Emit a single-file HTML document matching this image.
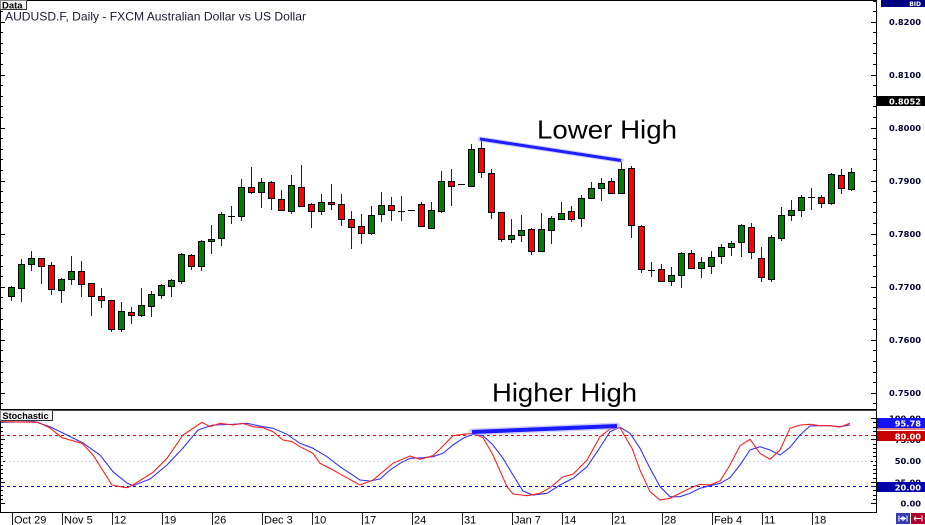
<!DOCTYPE html>
<html><head><meta charset="utf-8"><style>
html,body{margin:0;padding:0;background:#fff;}
svg{display:block;}
.ax{font-family:"DejaVu Sans","Liberation Sans",sans-serif;font-weight:bold;font-size:8.3px;fill:#000033;}
.bx{font-family:"DejaVu Sans","Liberation Sans",sans-serif;font-weight:bold;font-size:8.3px;fill:#fff;}
.dt{font-family:"Liberation Sans",sans-serif;font-size:11px;fill:#000;}
.big{font-family:"Liberation Sans",sans-serif;font-size:26px;fill:#000;}
</style></head><body>
<svg width="925" height="525" viewBox="0 0 925 525" xmlns="http://www.w3.org/2000/svg">
<rect width="925" height="525" fill="#fff"/>

<!-- frames -->
<path d="M0 0.5H877 M876.5 0V513 M0 409.5H877 M0 512.5H877 M0.5 0V513" stroke="#000" stroke-width="1" fill="none"/>
<path d="M0 410.5H877" stroke="#444" stroke-width="1"/>

<!-- price ticks right -->
<path stroke="#000" stroke-width="1" fill="none" d="
M873 1.5h3 M873 11.5h3 M871 22.5h5 M873 32.5h3 M873 43.5h3 M873 53.5h3 M873 64.5h3 M871 75.5h5 M873 85.5h3 M873 96.5h3 M873 106.5h3 M873 117.5h3 M871 128.5h5 M873 138.5h3 M873 149.5h3 M873 159.5h3 M873 170.5h3 M871 181.5h5 M873 191.5h3 M873 202.5h3 M873 212.5h3 M873 223.5h3 M871 234.5h5 M873 244.5h3 M873 255.5h3 M873 266.5h3 M873 276.5h3 M871 287.5h5 M873 297.5h3 M873 308.5h3 M873 319.5h3 M873 329.5h3 M871 340.5h5 M873 350.5h3 M873 361.5h3 M873 372.5h3 M873 382.5h3 M871 393.5h5 M873 403.5h3
M1 1.5h2 M1 11.5h2 M1 22.5h4 M1 32.5h2 M1 43.5h2 M1 53.5h2 M1 64.5h2 M1 75.5h4 M1 85.5h2 M1 96.5h2 M1 106.5h2 M1 117.5h2 M1 128.5h4 M1 138.5h2 M1 149.5h2 M1 159.5h2 M1 170.5h2 M1 181.5h4 M1 191.5h2 M1 202.5h2 M1 212.5h2 M1 223.5h2 M1 234.5h4 M1 244.5h2 M1 255.5h2 M1 266.5h2 M1 276.5h2 M1 287.5h4 M1 297.5h2 M1 308.5h2 M1 319.5h2 M1 329.5h2 M1 340.5h4 M1 350.5h2 M1 361.5h2 M1 372.5h2 M1 382.5h2 M1 393.5h4 M1 403.5h2
"/>
<!-- stoch ticks -->
<path stroke="#000" stroke-width="1" fill="none" d="
M871 503.5h5 M873 499.5h3 M873 495.5h3 M873 490.5h3 M873 486.5h3 M871 482.5h5 M873 478.5h3 M873 473.5h3 M873 469.5h3 M873 465.5h3 M871 461.5h5 M873 456.5h3 M873 452.5h3 M873 448.5h3 M873 444.5h3 M871 439.5h5 M873 435.5h3 M873 431.5h3 M873 427.5h3 M873 422.5h3 M871 418.5h5
M1 503.5h4 M1 499.5h2 M1 495.5h2 M1 490.5h2 M1 486.5h2 M1 482.5h4 M1 478.5h2 M1 473.5h2 M1 469.5h2 M1 465.5h2 M1 461.5h4 M1 456.5h2 M1 452.5h2 M1 448.5h2 M1 444.5h2 M1 439.5h4 M1 435.5h2 M1 431.5h2 M1 427.5h2 M1 422.5h2 M1 418.5h4
"/>

<!-- price labels -->
<g class="ax" text-anchor="end">
<text x="921" y="25">0.8200</text>
<text x="921" y="78">0.8100</text>
<text x="921" y="131">0.8000</text>
<text x="921" y="184">0.7900</text>
<text x="921" y="237">0.7800</text>
<text x="921" y="290">0.7700</text>
<text x="921" y="343">0.7600</text>
<text x="921" y="396">0.7500</text>
<text x="921" y="421.5">100.00</text>
<text x="921" y="443">75.00</text>
<text x="921" y="464">50.00</text>
<text x="921" y="485.5">25.00</text>
<text x="921" y="506.5">0.00</text>
</g>

<!-- value boxes -->
<rect x="881" y="0" width="44" height="7" fill="#000080"/>
<text x="921" y="6" text-anchor="end" style="font-family:'DejaVu Sans',sans-serif;font-weight:bold;font-size:6px;fill:#fff;">BID</text>
<rect x="877" y="96" width="48" height="10" fill="#000"/>
<text class="bx" x="921" y="104.5" text-anchor="end">0.8052</text>
<rect x="877" y="418" width="48" height="10" fill="#1414f0"/>
<text class="bx" x="921" y="426.5" text-anchor="end">95.78</text>
<rect x="877" y="428.5" width="48" height="1" fill="#c00000"/>
<rect x="877" y="431" width="48" height="10" fill="#c80000"/>
<text class="bx" x="921" y="439.5" text-anchor="end">80.00</text>
<rect x="877" y="482" width="48" height="10" fill="#0000a8"/>
<text class="bx" x="921" y="490.5" text-anchor="end">20.00</text>

<!-- buttons -->
<rect x="896" y="513" width="14" height="11" fill="#3a3ab0"/>
<rect x="911" y="513" width="14" height="11" fill="#b00030"/>
<path d="M899 515.5v6 M907 515.5v6 M900 518.5h6 M901 518.5l2-2 M901 518.5l2 2 M905 518.5l-2-2 M905 518.5l-2 2 M914 518.5h7 M914 518.5l2-2 M914 518.5l2 2 M922 515.5v6" stroke="#fff" stroke-width="1" fill="none"/>

<!-- labels boxes -->
<rect x="0.5" y="0.5" width="26" height="9" fill="#f4f4f4" stroke="#888"/>
<path d="M26.5 0.5V9.5H0.5" stroke="#333" fill="none"/>
<text x="2" y="8.5" style="font-family:'Liberation Sans',sans-serif;font-weight:bold;font-size:9.5px;fill:#000;">Data</text>
<text x="5" y="20.5" textLength="301" lengthAdjust="spacingAndGlyphs" style="font-family:'Liberation Sans',sans-serif;font-size:12px;fill:#1a1a30;">AUDUSD.F, Daily - FXCM Australian Dollar vs US Dollar</text>

<rect x="0.5" y="410.5" width="52" height="10" fill="#f4f4f4" stroke="#888"/>
<path d="M52.5 410.5V420.5H0.5" stroke="#333" fill="none"/>
<text x="2.5" y="419" textLength="46" lengthAdjust="spacingAndGlyphs" style="font-family:'Liberation Sans',sans-serif;font-weight:bold;font-size:9.5px;fill:#000;">Stochastic</text>

<!-- x axis -->
<path stroke="#222" stroke-width="1" d="M12.5 513V525 M62.5 513V525 M112.5 513V525 M162.5 513V525 M212.5 513V525 M262.5 513V525 M312.5 513V525 M362.5 513V525 M412.5 513V525 M462.5 513V525 M512.5 513V525 M562.5 513V525 M612.5 513V525 M662.5 513V525 M712.5 513V525 M762.5 513V525 M812.5 513V525"/>
<g class="dt">
<text x="14" y="523.5">Oct 29</text>
<text x="64" y="523.5">Nov 5</text>
<text x="114" y="523.5">12</text>
<text x="164" y="523.5">19</text>
<text x="214" y="523.5">26</text>
<text x="264" y="523.5">Dec 3</text>
<text x="314" y="523.5">10</text>
<text x="364" y="523.5">17</text>
<text x="414" y="523.5">24</text>
<text x="464" y="523.5">31</text>
<text x="514" y="523.5">Jan 7</text>
<text x="564" y="523.5">14</text>
<text x="614" y="523.5">21</text>
<text x="664" y="523.5">28</text>
<text x="714" y="523.5">Feb 4</text>
<text x="764" y="523.5">11</text>
<text x="814" y="523.5">18</text>
</g>

<!-- candle wicks -->
<path stroke="#222" stroke-width="1" fill="none" d="
M11.5 286V301 M21.5 259V302 M31.5 251V271 M41.5 258V284 M51.5 262V295 M61.5 278V303 M71.5 256V285 M81.5 261V297 M91.5 283V316 M101.5 288V308
M111.5 300V332 M121.5 302V332 M131.5 307V324 M141.5 288V317 M151.5 291V317 M161.5 284V299 M171.5 279V297 M181.5 253V284 M191.5 254V270 M201.5 240V271
M211.5 225V254 M221.5 212V246 M231.5 206V224 M241.5 179V221 M251.5 167V194 M261.5 178V208 M271.5 181V210 M281.5 190V210 M291.5 175V214 M301.5 165V207
M311.5 203V228 M321.5 194V215 M331.5 184V210 M341.5 194V226 M351.5 211V249 M361.5 214V244 M371.5 206V235 M381.5 192V222 M391.5 197V221 M401.5 196V221
M421.5 202V226 M431.5 202V229 M441.5 171V213 M451.5 169V206 M471.5 144V186 M481.5 139V178 M491.5 169V219 M501.5 212V242
M511.5 219V243 M521.5 215V242 M531.5 228V255 M541.5 213V251 M551.5 216V244 M561.5 202V219 M571.5 206V222 M581.5 195V227 M591.5 182V199 M601.5 178V201
M611.5 178V193 M621.5 162V193 M631.5 166V238 M641.5 225V273 M651.5 262V277 M661.5 264V282 M671.5 267V286 M681.5 252V288 M691.5 250V268 M701.5 257V278
M711.5 251V274 M721.5 244V264 M731.5 241V256 M741.5 224V257 M751.5 223V259 M761.5 247V282 M771.5 235V282 M781.5 207V241 M791.5 200V221 M801.5 195V217
M811.5 188V210 M821.5 195V208 M831.5 173V205 M841.5 169V194 M851.5 168V191
"/>
<!-- green bodies -->
<path fill="#008000" stroke="#000" stroke-width="1" d="
M8.5 287.5h6v9h-6z M18.5 264.5h6v24h-6z M28.5 258.5h6v6h-6z M58.5 279.5h6v11h-6z M68.5 271.5h6v8h-6z M118.5 311.5h6v18h-6z M138.5 305.5h6v10h-6z M148.5 294.5h6v12h-6z M158.5 285.5h6v10h-6z M168.5 280.5h6v6h-6z
M178.5 254.5h6v27h-6z M198.5 241.5h6v25h-6z M208.5 239.5h6v2h-6z M218.5 214.5h6v24h-6z M238.5 187.5h6v29h-6z M258.5 182.5h6v10h-6z M288.5 185.5h6v26h-6z M318.5 202.5h6v9h-6z M368.5 215.5h6v18h-6z M378.5 205.5h6v9h-6z
M428.5 210.5h6v18h-6z M438.5 181.5h6v30h-6z M468.5 149.5h6v37h-6z M508.5 235.5h6v4h-6z M518.5 230.5h6v5h-6z M538.5 229.5h6v22h-6z M548.5 218.5h6v12h-6z M558.5 213.5h6v6h-6z M578.5 198.5h6v20h-6z M588.5 188.5h6v10h-6z
M598.5 183.5h6v5h-6z M618.5 169.5h6v24h-6z M668.5 275.5h6v6h-6z M678.5 253.5h6v22h-6z M698.5 262.5h6v6h-6z M708.5 257.5h6v9h-6z M718.5 247.5h6v9h-6z M728.5 243.5h6v4h-6z M738.5 225.5h6v17h-6z M768.5 237.5h6v42h-6z
M778.5 215.5h6v23h-6z M788.5 210.5h6v5h-6z M798.5 197.5h6v13h-6z M828.5 174.5h6v29h-6z M848.5 172.5h6v17h-6z
"/>
<!-- red bodies -->
<path fill="#ff0000" stroke="#000" stroke-width="1" d="
M38.5 258.5h6v8h-6z M48.5 265.5h6v24h-6z M78.5 271.5h6v13h-6z M88.5 283.5h6v13h-6z M98.5 296.5h6v4h-6z M108.5 300.5h6v29h-6z M128.5 312.5h6v3h-6z M188.5 255.5h6v11h-6z M248.5 187.5h6v5h-6z M268.5 182.5h6v16h-6z
M278.5 199.5h6v11h-6z M298.5 187.5h6v19h-6z M308.5 204.5h6v7h-6z M328.5 202.5h6v2h-6z M338.5 204.5h6v15h-6z M348.5 219.5h6v8h-6z M358.5 226.5h6v7h-6z M388.5 205.5h6v5h-6z M418.5 204.5h6v22h-6z M448.5 181.5h6v5h-6z
M478.5 148.5h6v24h-6z M488.5 173.5h6v39h-6z M498.5 212.5h6v27h-6z M528.5 229.5h6v22h-6z M568.5 211.5h6v8h-6z M608.5 181.5h6v12h-6z M628.5 168.5h6v57h-6z M638.5 226.5h6v43h-6z M658.5 269.5h6v12h-6z M688.5 253.5h6v15h-6z
M748.5 227.5h6v25h-6z M758.5 258.5h6v19h-6z M818.5 197.5h6v6h-6z M838.5 175.5h6v13h-6z
"/>
<!-- doji / flat -->
<path stroke="#000" stroke-width="1" fill="none" d="M228 216.5h7 M398 211.5h7 M648 270.5h7 M808 197.5h7 M408 210.5h7 M458 184.5h7"/>

<!-- stochastic reference lines -->
<line x1="1" y1="461.5" x2="876" y2="461.5" stroke="#d8d8d8" stroke-width="1" stroke-dasharray="2,2"/>
<line x1="1" y1="435.5" x2="876" y2="435.5" stroke="#ff0000" stroke-width="1" stroke-dasharray="3,3"/>
<line x1="1" y1="486.5" x2="876" y2="486.5" stroke="#0000ff" stroke-width="1" stroke-dasharray="3,3"/>

<!-- stochastic lines -->
<polyline fill="none" stroke="#3434ff" stroke-width="1.1" points="1,422.3 35,421.7 50,426.7 67,435 83,443 100,455 113,471.7 127,483 133,485.7 150,479 167,465 183,448 198,430 213,425 233,424.3 247,423.3 263,426.7 273,428.3 287,434.3 300,443.3 313,448.3 327,456.7 340,466.7 360,480 370,481 380,479 390,470 400,463.3 410,458.3 423,457.7 433,456.7 443,453.3 453,445 463,438.3 473,434.3 483,435.7 493,445 503,458.3 513,475 523,491 533,495 547,493.3 560,485 573,478.3 587,466.7 600,447.5 610,431.7 620,427.3 630,433.3 640,448.3 650,468.3 660,486.7 670,496.7 680,496.7 690,493.3 700,488.3 710,485.7 720,483.3 730,477.7 740,465 750,450 760,446.7 770,450 780,455 790,447.3 800,435 810,426 820,425.7 830,425.7 840,426.7 850,425"/>
<polyline fill="none" stroke="#ff2020" stroke-width="1.1" points="1,421.7 38,422.3 50,428 62,437.7 70,440 82,443.3 93,455 112,485 120,486.7 127,487.7 133,485 153,472.3 167,458.3 183,435 202,422.3 210,426.7 220,423.3 233,425 243,423.3 253,426.7 263,427.7 273,431.7 283,440 292,441.7 300,446.7 313,453.3 320,463.3 333,470 343,475.7 360,485 373,480 393,463.3 410,456 420,459.3 433,455.7 440,449 453,435.7 463,434.3 473,433.3 483,437.7 493,455 507,486.7 513,494 527,495.7 540,493.3 550,487.7 563,476.7 573,474.3 587,460 600,436.7 610,429 620,427.7 632,448.3 640,470 650,491.7 660,500 670,498.3 680,493.3 690,488.3 700,484.3 710,485 720,481 730,465 740,445.7 750,439.3 760,453.3 770,459.3 780,450 790,428.3 800,425 810,424.3 820,425.7 830,425.7 840,427 850,423.3"/>

<!-- annotations -->
<line x1="480" y1="139" x2="621" y2="160.5" stroke="#9a9aff" stroke-width="5" stroke-linecap="round" opacity="0.5"/>
<line x1="480" y1="139" x2="621" y2="160.5" stroke="#1e1eff" stroke-width="3"/>
<line x1="472" y1="432" x2="617" y2="426" stroke="#a0a0ff" stroke-width="7" stroke-linecap="round" opacity="0.5"/>
<line x1="472" y1="432" x2="617" y2="426" stroke="#1a1aff" stroke-width="4"/>

<text class="big" x="537" y="138.3" textLength="140" lengthAdjust="spacingAndGlyphs">Lower High</text>
<text class="big" x="492" y="401.7" textLength="145" lengthAdjust="spacingAndGlyphs">Higher High</text>
</svg>
</body></html>
